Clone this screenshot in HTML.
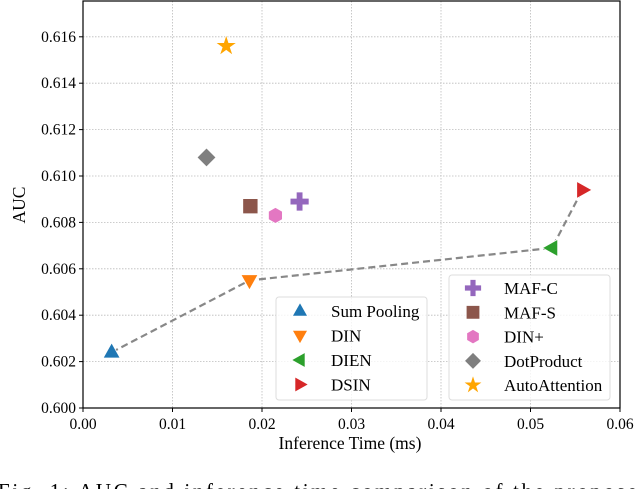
<!DOCTYPE html>
<html><head><meta charset="utf-8"><style>
body{margin:0;background:#fff;width:640px;height:489px;overflow:hidden;font-family:"Liberation Serif",serif}
svg text{font-family:"Liberation Serif",serif}
</style></head><body>
<svg width="640" height="489">
<g id="grid"></g><g id="ticks"></g><g id="line"></g><g id="marks"></g><g id="legend"></g>
<rect x="83" y="1" width="537" height="407" fill="none" stroke="#000" stroke-width="1.2"/>
<text x="350" y="449" font-size="17.5" text-anchor="middle">Inference Time (ms)</text>
<text transform="translate(25,205) rotate(-90)" font-size="17.5" text-anchor="middle">AUC</text>
<text x="-2" y="498" font-size="21" textLength="652" lengthAdjust="spacing">Fig. 1: AUC and inference time comparison of the proposed</text>
</svg>
<script>
const names=["Sum Pooling","DIN","DIEN","DSIN","MAF-C","MAF-S","DIN+","DotProduct","AutoAttention"];
const times=[0.0032,0.0186,0.0524,0.0558,0.0242,0.0187,0.0215,0.0138,0.0160];
const aucs=[0.6024,0.6055,0.6069,0.6094,0.6089,0.6087,0.6083,0.6108,0.6156];
const xTicks=[0,0.01,0.02,0.03,0.04,0.05,0.06];
const yTicks=[0.600,0.602,0.604,0.606,0.608,0.610,0.612,0.614,0.616];
const colors=["#1f77b4","#ff7f0e","#2ca02c","#d62728","#9467bd","#8c564b","#e377c2","#7f7f7f","#ffa500"];
const NS="http://www.w3.org/2000/svg";
const X=v=>83+v/0.06*537, Y=v=>408-(v-0.6)/0.002*46.4;
function mk(p,t,a){const e=document.createElementNS(NS,t);for(const k in a)e.setAttribute(k,a[k]);document.getElementById(p).appendChild(e);return e;}
xTicks.forEach(t=>{const x=X(t);
 const g=mk('grid','line',{x1:x,x2:x,y1:1,y2:408,stroke:'#bbb','stroke-dasharray':'1.5,1.5','stroke-width':0.8});
 
 mk('ticks','line',{x1:x,x2:x,y1:408,y2:412,stroke:'#000'});
 const l=mk('ticks','text',{x:x,y:429,'font-size':15.5,'text-anchor':'middle'});l.textContent=t.toFixed(2);
 });
yTicks.forEach(t=>{const y=Y(t);
 const g=mk('grid','line',{x1:83,x2:620,y1:y,y2:y,stroke:'#bbb','stroke-dasharray':'1.5,1.5','stroke-width':0.8});
 
 mk('ticks','line',{x1:79,x2:83,y1:y,y2:y,stroke:'#000'});
 const l=mk('ticks','text',{x:76,y:y+5,'font-size':15.5,'text-anchor':'end'});l.textContent=t.toFixed(3);
 });
const pl=mk('line','polyline',{points:[0,1,2,3].map(i=>X(times[i])+','+Y(aucs[i])).join(' '),fill:'none',stroke:'#888','stroke-width':2.2,'stroke-dasharray':'7,4'});

function shape(i,cx,cy,s){const c=colors[i];let d;const r=s;
 switch(i){
 case 0:d=`M${cx},${cy-r}L${cx+r*0.9},${cy+r*0.6}L${cx-r*0.9},${cy+r*0.6}Z`;break;
 case 1:d=`M${cx},${cy+r}L${cx+r*0.9},${cy-r*0.6}L${cx-r*0.9},${cy-r*0.6}Z`;break;
 case 2:d=`M${cx-r},${cy}L${cx+r*0.6},${cy-r*0.9}L${cx+r*0.6},${cy+r*0.9}Z`;break;
 case 3:d=`M${cx+r},${cy}L${cx-r*0.6},${cy-r*0.9}L${cx-r*0.6},${cy+r*0.9}Z`;break;
 case 4:{const a=r*0.35;d=`M${cx-a},${cy-r}H${cx+a}V${cy-a}H${cx+r}V${cy+a}H${cx+a}V${cy+r}H${cx-a}V${cy+a}H${cx-r}V${cy-a}H${cx-a}Z`;break;}
 case 5:d=`M${cx-r*0.8},${cy-r*0.8}h${r*1.6}v${r*1.6}h${-r*1.6}Z`;break;
 case 6:{let p=[];for(let k=0;k<6;k++){const a=Math.PI/3*k+Math.PI/6;p.push((cx+r*0.85*Math.cos(a))+','+(cy+r*0.85*Math.sin(a)));}d='M'+p.join('L')+'Z';break;}
 case 7:d=`M${cx},${cy-r}L${cx+r},${cy}L${cx},${cy+r}L${cx-r},${cy}Z`;break;
 case 8:{let p=[];for(let k=0;k<10;k++){const a=-Math.PI/2+Math.PI/5*k;const rr=k%2?r*0.45:r*1.2;p.push((cx+rr*Math.cos(a))+','+(cy+rr*Math.sin(a)));}d='M'+p.join('L')+'Z';break;}
 }
 return {d:d,fill:c,stroke:'#fff','stroke-width':0.8,'stroke-linejoin':'miter'};}
names.forEach((n,i)=>{const m=mk('marks','path',shape(i,X(times[i]),Y(aucs[i]),9.5));
 });
const b1=mk('legend','rect',{x:276,y:297,width:151,height:103,rx:3,fill:'#fff','fill-opacity':0.8,stroke:'#ddd'});

const b2=mk('legend','rect',{x:449,y:275,width:161,height:125,rx:3,fill:'#fff','fill-opacity':0.8,stroke:'#ddd'});

names.forEach((n,i)=>{const left=i<4;const row=left?i:i-4;const bx=left?300:473;
 const yy=left?311+row*24.5:288+row*24.3;
 const m=mk('legend','path',shape(i,bx,yy,8.5));
 
 const t=mk('legend','text',{x:left?331:504,y:yy+6,'font-size':17});t.textContent=n;
 });
</script>
</body></html>
